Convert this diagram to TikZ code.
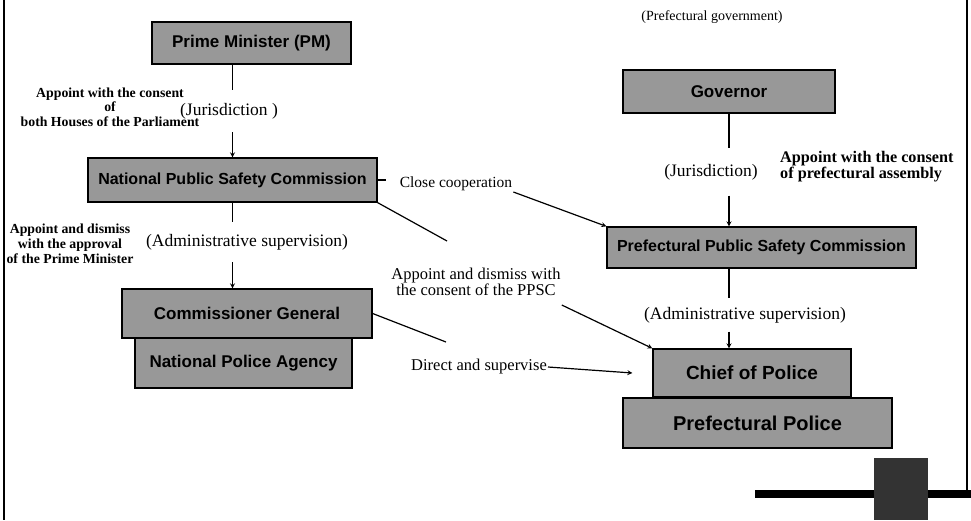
\documentclass[tikz,border=0pt]{standalone}
\usepackage{fontspec}
\setmainfont{Liberation Serif}
\setsansfont{Liberation Sans}
\definecolor{boxgray}{RGB}{152,152,152}
\newcommand{\office}[6][17]{%
 \node[office,minimum width=#4,minimum height=#5,
  font=\sffamily\bfseries\fontsize{#1}{#1}\selectfont] (#2) at (#3) {#6};%
}

\begin{document}
\begin{tikzpicture}[x=1pt,y=-1pt,>=stealth,
  office/.style={draw=black,line width=1.3pt,fill=boxgray,inner sep=0pt},
  note/.style={font=\fontsize{15.5}{14}\selectfont,inner sep=1pt,align=center},
  heavy/.style={note,font=\bfseries\fontsize{#1}{14.5}\selectfont},
  via/.style={note,font=\fontsize{17.5}{17.5}\selectfont,inner ysep=#1},
  link/.style={line width=1.2pt}]
 \useasboundingbox (0,0) rectangle (971,520);
 \draw[line width=2.4pt] (4,0) -- (4,520);
 \draw[line width=2pt] (967,0) -- (967,490);
 \fill (755,490) rectangle (971,498);
 \fill[black!80] (874,458) rectangle (928,520);

 \office{pm}{251.5,43}{199pt}{42pt}{Prime Minister (PM)}
 \office[16]{npsc}{232.5,180}{289pt}{44pt}{National Public Safety Commission}
 \office{cg}{247,313.5}{250pt}{49pt}{Commissioner General}
 \office{npa}{243.5,363}{217pt}{50pt}{National Police Agency}
 \office{gov}{729,91.5}{212pt}{43pt}{Governor}
 \office[16]{ppsc}{761.5,247.5}{309pt}{41pt}{Prefectural Public Safety Commission}
 \office[19]{chief}{752,373}{198pt}{48pt}{Chief of Police}
 \office[20]{pp}{757.5,423}{269pt}{50pt}{Prefectural Police}

 \node[note,font=\fontsize{14}{14}\selectfont] (prefgov) at (712,17) {(Prefectural government)};
 \node[heavy=13.8,font=\bfseries\fontsize{13.8}{13.5}\selectfont,anchor=north] (consent) at (110,87) {Appoint with the consent\\of\\[2pt]both Houses of the Parliament};
 \node[heavy=13.8,font=\bfseries\fontsize{13.8}{15}\selectfont] (approval) at (70,244) {Appoint and dismiss\\with the approval\\of the Prime Minister};
 \node[heavy=16.2,anchor=west,align=left] (assembly) at (779,167) {Appoint with the consent\\of prefectural assembly};
 \node[note] (coop) at (456,184) {Close cooperation};
 \node[note,font=\fontsize{16.5}{16}\selectfont] (ppscok) at (476,282) {Appoint and dismiss with\\the consent of the PPSC};
 \node[note,font=\fontsize{16.5}{16}\selectfont] (direct) at (479,367) {Direct and supervise};
 \node[via=13pt] (jurl) at (229,111) {(Jurisdiction )};
 \node[via=15.4pt] (jurr) at (711,172) {(Jurisdiction)};
 \node[via=11.9pt] (adminl) at (247,242) {(Administrative supervision)};
 \node[via=8.4pt] (adminr) at (745,315) {(Administrative supervision)};
 \coordinate (coopin) at (386,180);
 \coordinate (ppscin) at (447,241);
 \coordinate (directin) at (446,342);

 \draw[link] (npsc.north |- pm.south) -- (npsc.north |- jurl.north);
 \draw[link,->] (npsc.north |- jurl.south) -- (npsc.north);
 \draw[link] (npsc.south) -- (npsc.south |- adminl.north);
 \draw[link,->] (npsc.south |- adminl.south) -- (npsc.south |- cg.north);
 \draw[link] (gov.south) -- (gov.south |- jurr.north);
 \draw[link,->] (gov.south |- jurr.south) -- (gov.south |- ppsc.north);
 \draw[link] (gov.south |- ppsc.south) -- (gov.south |- adminr.north);
 \draw[link,->] (gov.south |- adminr.south) -- (gov.south |- chief.north);

 \draw[link] (npsc.east) -- (coopin);
 \draw[link,->] ([yshift=-8pt]coop.east) -- (ppsc.north west);
 \draw[link] (npsc.south east) -- (ppscin);
 \draw[link,->] ([yshift=-8pt]ppscok.south east) -- (chief.north west);
 \draw[link] (cg.east) -- (directin);
 \draw[link,->] (direct.east) -- ([xshift=-20pt]chief.west);
\end{tikzpicture}
\end{document}
